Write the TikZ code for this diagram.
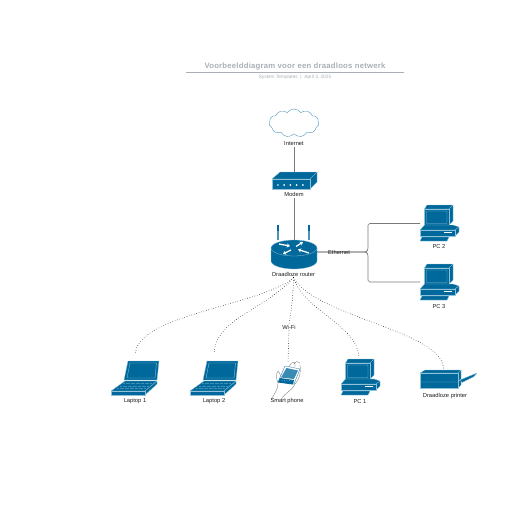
\documentclass[tikz,border=0pt]{standalone}
\usepackage{fontspec}
\setmainfont{Liberation Sans}
\newfontfamily\titlefont[LetterSpace=3]{Liberation Sans}
\usetikzlibrary{arrows.meta,shapes.symbols}
\definecolor{nblue}{HTML}{00689A}
\definecolor{nedge}{HTML}{8FC1D8}
\definecolor{nline}{HTML}{7A7A7A}
\definecolor{ngrey}{HTML}{A9AEB8}
\definecolor{ntext}{HTML}{1E1E1E}
\tikzset{
  lbl/.style={font=\fontsize{8.2}{10}\selectfont,text=ntext,inner sep=1.5pt},
  face/.style={fill=nblue,draw=nedge,line width=0.4pt,line join=round},
  glow/.style={draw=nedge,line width=0.55pt},
  lnk/.style={draw=nline,line width=0.8pt},
  wifi/.style={draw=black,line width=1pt,line cap=round,dash pattern=on 0pt off 3.6pt},
  rarrow/.style={-{Stealth[length=4.5pt,width=6pt]},draw=white,line width=1.8pt},
  hand/.style={draw=black!65,line width=0.35pt},
  modem/.pic={
    \draw[face] (0,7) -- (8,0) -- (45,0) -- (38,7) -- cycle;
    \draw[face] (38,7) -- (45,0) -- (45,10) -- (38,17) -- cycle;
    \draw[face] (0,7) rectangle (38,17);
    \foreach \d in {6,12.2,18.4,24.6,30.8} { \fill[white] (\d,13) circle (1.4pt); }
  },
  router/.pic={
    \foreach \a in {-16,15} {
      \fill[nedge] (\a-1.4,-8) rectangle (\a+1.4,-23);
      \fill[nblue] (\a-1.4,-23) rectangle (\a+1.4,-17);
      \fill[nblue!70] (\a-.8,-17) rectangle (\a+.8,-8);
    }
    \draw[face] (-23,0) -- (-23,13) arc[start angle=180,end angle=0,x radius=23,y radius=8] -- (23,0) -- cycle;
    \draw[face] (0,0) ellipse[x radius=23,y radius=8];
    \draw[rarrow] (-15,-4) -- (-4,-2);
    \draw[rarrow] (2,-1.5) -- (9,-6);
    \draw[rarrow] (-3,2) -- (-11,6);
    \draw[rarrow] (15,5) -- (4,1.5);
  },
  pcicon/.pic={
    \draw[face] (7,0) -- (33,0) -- (29,4) -- (4.5,4) -- cycle;
    \draw[face] (29,4) -- (33,0) -- (33,16) -- (29,20) -- cycle;
    \draw[face] (4.5,4) rectangle (29,20);
    \draw[glow,rounded corners=1pt] (6.5,6) rectangle (27,18.5);
    \draw[face] (4.5,20) -- (33,20) -- (39,22) -- (35,25) -- (0,25) -- cycle;
    \draw[face] (35,25) -- (39,22) -- (39,27) -- (35,31) -- cycle;
    \draw[face] (0,25) rectangle (35,31);
    \draw[white,line width=0.7pt] (24,27.5) -- (32,27.5);
    \draw[face] (2,32) -- (29,32) -- (27,36) -- (0,36) -- cycle;
  },
  laptop/.pic={
    \draw[face] (17,0) -- (48,0) -- (46,19) -- (13,19) -- cycle;
    \draw[glow] (19,2) -- (45.5,2) -- (44,17) -- (16,17) -- cycle;
    \draw[face] (14,20) -- (46,20) -- (34,30) -- (0,30) -- cycle;
    \foreach \k/\a/\b in {22.5/12/41,25/9/38,27.5/6/35} { \draw[nblue!55!nedge,line width=0.5pt,dash pattern=on 1.2pt off .6pt] (\a,\k) -- (\b,\k); }
    \draw[face] (34,30) -- (46,20) -- (46,23) -- (34,34) -- cycle;
    \draw[face] (0,30) rectangle (34,34);
  },
  phone/.pic={
    % hand
    \draw[hand] (-8,34) .. controls (-4,26) and (-1,24) .. (-1,17) .. controls (-3,12) and (-3,8) .. (-1,5) .. controls (1,6) and (1,9) .. (2,12);
    \draw[hand] (2,34) .. controls (6,26) and (12,26) .. (16,18) .. controls (20,14) and (22,8) .. (21,-1);
    \draw[hand] (10,1) .. controls (11,-2) and (13,-4) .. (15,-4) .. controls (16,-3) and (16,-1) .. (16,1);
    \draw[hand] (15,-2) .. controls (17,-5) and (19,-5) .. (21,-3);
    % device
    \draw[fill=white,draw=nblue,line width=0.4pt] (6,0) -- (21,3) -- (15,18) -- (-1,16) -- cycle;
    \fill[nblue!60!nedge] (7.5,2) -- (19,4.5) -- (15,13) -- (2,11.5) -- cycle;
    \fill[nblue] (1,12) -- (15,14) -- (14,18.5) -- (-1,16.5) -- cycle;
    \foreach \d in {3,5.5,8,10.5,13} { \fill[white] (\d,14.6) circle (.4pt); }
  },
  printer/.pic={
    \draw[face] (0,3) -- (5,0) -- (41,0) -- (38,3) -- cycle;
    \draw[face] (38,3) -- (41,0) -- (41,15) -- (38,18) -- cycle;
    \draw[face] (0,3) rectangle (38,18);
    \draw[glow] (0,12) -- (38,12) -- (41,9);
    \draw[face] (40,10) -- (57,3) -- (54,6.5) -- (42,12.5) -- cycle;
  },
}
\begin{document}
\begin{tikzpicture}[x=0.05cm,y=-0.05cm]
  \useasboundingbox (0,0) rectangle (516,516);
  % titel
  \node[font=\titlefont\fontsize{11}{13}\selectfont\bfseries,text=ngrey,inner sep=0pt] (title) at (295,66.5) {Voorbeelddiagram voor een draadloos netwerk};
  \coordinate (ruleL) at (186,72);
  \coordinate (ruleR) at (404,72);
  \draw[ngrey,line width=0.9pt] (ruleL) -- (ruleR);
  \node[font=\fontsize{6.8}{8}\selectfont,text=ngrey,inner sep=0pt] (sub) at (295,77.5) {System Templates \ | \ April 3, 2025};
  % vaste lijnen
  \node[cloud,cloud puffs=11,cloud puff arc=110,aspect=1.75,draw=nblue!75!white,fill=white,line width=0.5pt,minimum width=50*0.05cm,minimum height=28*0.05cm,inner sep=0pt] (inet) at (294,123) {};
  \node[lbl] (inetl) at (294,143.5) {Internet};
  \node[lbl] (modl) at (294,194.5) {Modem};
  \node[lbl] (rtrl) at (293.5,274.5) {Draadloze router};
  \node[lbl] (wifil) at (289,327.5) {Wi-Fi};
  \coordinate (modtop) at (294,176);
  \coordinate (rtrtop) at (294,244);
  \coordinate (rtrout) at (316,252);
  \coordinate (brace) at (366,252);
  \coordinate (pc2in) at (420,223.5);
  \coordinate (pc3in) at (420,282);
  \draw[lnk] (inetl.south) -- (modtop);
  \draw[lnk] (modl.south) -- (rtrtop);
  \draw[lnk,rounded corners=2.5pt] (rtrout) -- (brace) -- (368,250) -- (368,223.5) -- (pc2in);
  \draw[lnk,rounded corners=2.5pt] (rtrout) -- (brace) -- (368,254) -- (368,282) -- (pc3in);
  \node[lbl] (eth) at (339,252) {Ethernet};
  % iconen
  \pic at (272,172) {modem};
  \pic at (294,248) {router};
  \pic at (420,205) {pcicon};
  \pic at (420,264) {pcicon};
  \pic at (341,359) {pcicon};
  \pic at (111,361) {laptop};
  \pic at (190,361) {laptop};
  \pic at (279,366) {phone};
  \pic at (420,370) {printer};
  \node[lbl] (pc2l) at (439,246.5) {PC 2};
  \node[lbl] (pc3l) at (439,306.5) {PC 3};
  \node[lbl] (lap1l) at (135,401.5) {Laptop 1};
  \node[lbl] (lap2l) at (214,401.5) {Laptop 2};
  \node[lbl] (phl) at (287,401.5) {Smart phone};
  \node[lbl] (pc1l) at (360,401.5) {PC 1};
  \node[lbl] (prl) at (445,396.5) {Draadloze printer};
  % draadloos
  \coordinate (lap1in) at (135.5,354);
  \coordinate (lap2in) at (214,354);
  \coordinate (phin) at (288,362);
  \coordinate (pc1in) at (359,358);
  \coordinate (prin) at (443.5,368);
  \draw[wifi] (rtrl.south) .. controls (262,305) and (136,315) .. (lap1in);
  \draw[wifi] (rtrl.south) .. controls (262,312) and (216,318) .. (lap2in);
  \draw[wifi] (rtrl.south) .. controls (293,300) and (291,312) .. (wifil.north);
  \draw[wifi] (wifil.south) -- (phin);
  \draw[wifi] (rtrl.south) .. controls (305,312) and (358,325) .. (pc1in);
  \draw[wifi] (rtrl.south) .. controls (318,318) and (440,330) .. (prin);
\end{tikzpicture}
\end{document}
